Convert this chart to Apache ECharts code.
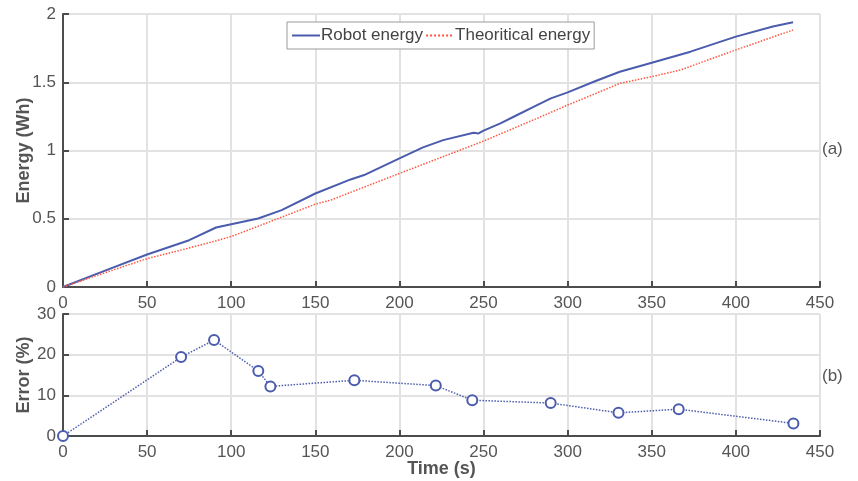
<!DOCTYPE html>
<html>
<head>
<meta charset="utf-8">
<script src="https://cdn.jsdelivr.net/npm/echarts@6/dist/echarts.min.js"></script>
<style>
  html, body { margin: 0; padding: 0; background: #fff; }
  #chart { width: 858px; height: 481px; }
</style>
</head>
<body>
<div id="chart"></div>
<script>
// energy curves (a)
var robotTime = [0, 25, 50, 75, 91, 100, 116, 130, 150, 171, 179, 200, 214, 226, 244, 247, 250, 260, 270, 280, 290, 300, 317, 331, 350, 373, 400, 422, 434];
var robotEnergy = [0, 0.12, 0.238, 0.343, 0.436, 0.46, 0.502, 0.563, 0.685, 0.788, 0.82, 0.942, 1.023, 1.076, 1.13, 1.125, 1.145, 1.199, 1.26, 1.321, 1.382, 1.426, 1.511, 1.577, 1.643, 1.724, 1.834, 1.908, 1.94];
var theoTime = [0, 25, 50, 70, 90, 100, 116, 150, 159, 200, 250, 284, 300, 317, 331, 350, 367, 400, 434];
var theoEnergy = [0, 0.105, 0.208, 0.27, 0.335, 0.37, 0.445, 0.607, 0.636, 0.832, 1.069, 1.247, 1.333, 1.419, 1.492, 1.541, 1.59, 1.737, 1.883];
// error (b)
var errTime = [0, 70.2, 89.8, 116.1, 123.3, 173.2, 221.6, 243.3, 289.9, 330.2, 366, 434.2];
var errValue = [0, 19.4, 23.6, 16.0, 12.2, 13.7, 12.4, 8.8, 8.1, 5.7, 6.6, 3.1];

var xTicks = { min: 0, max: 450, interval: 50 };

function pairs(xs, ys) {
    var out = [];
    for (var i = 0; i < xs.length; i++) {
        out.push([xs[i], ys[i]]);
    }
    return out;
}

var axisGray = '#4d4d4d';
var labelGray = '#555';
var gridGray = '#e2e2e2';

function xAxisCfg(idx, name) {
    return {
        type: 'value',
        gridIndex: idx,
        min: xTicks.min,
        max: xTicks.max,
        interval: xTicks.interval,
        name: name,
        nameLocation: 'middle',
        nameGap: 24,
        nameMoveOverlap: false,
        nameTextStyle: { fontFamily: 'Liberation Sans', fontSize: 18, fontWeight: 'bold', color: labelGray },
        axisLine: { show: true, lineStyle: { color: axisGray, width: 2 } },
        axisTick: { show: true, inside: true, length: 6, lineStyle: { color: axisGray, width: 2 } },
        axisLabel: { fontFamily: 'Liberation Sans', fontSize: 17, color: labelGray, margin: 8 },
        splitLine: { show: true, lineStyle: { color: gridGray, width: 2 } }
    };
}

function yAxisCfg(idx, name, max, interval) {
    return {
        type: 'value',
        gridIndex: idx,
        min: 0,
        max: max,
        interval: interval,
        name: name,
        nameLocation: 'middle',
        nameGap: 30,
        nameMoveOverlap: false,
        nameTextStyle: { fontFamily: 'Liberation Sans', fontSize: 18, fontWeight: 'bold', color: labelGray },
        axisLine: { show: true, lineStyle: { color: axisGray, width: 2 } },
        axisTick: { show: true, inside: true, length: 6, lineStyle: { color: axisGray, width: 2 } },
        axisLabel: { fontFamily: 'Liberation Sans', fontSize: 17, color: labelGray, margin: 7 },
        splitLine: { show: true, lineStyle: { color: gridGray, width: 2 } }
    };
}

var chart = echarts.init(document.getElementById('chart'));
var option = {
    backgroundColor: '#fff',
    animation: false,
    legend: {
        left: 287,
        top: 22,
        padding: [5, 4, 5, 4],
        itemGap: 2,
        itemWidth: 28,
        itemHeight: 3,
        borderColor: '#9a9a9a',
        borderWidth: 1,
        backgroundColor: '#fff',
        itemStyle: { opacity: 0 },
        textStyle: { fontFamily: 'Liberation Sans', fontSize: 17, color: '#444', padding: [0, 0, 0, -4] },
        data: ['Robot energy', 'Theoritical energy']
    },
    grid: [
        { left: 63, right: 38, top: 14, height: 273, outerBoundsMode: 'none', containLabel: false },
        { left: 63, right: 38, top: 314, height: 122, outerBoundsMode: 'none', containLabel: false }
    ],
    xAxis: [xAxisCfg(0, ''), xAxisCfg(1, 'Time (s)')],
    yAxis: [yAxisCfg(0, 'Energy (Wh)', 2, 0.5), yAxisCfg(1, 'Error (%)', 30, 10)],
    graphic: [
        { type: 'text', left: 822, top: 141, style: { text: '(a)', fontFamily: 'Liberation Sans', fontSize: 17, fill: labelGray } },
        { type: 'text', left: 822, top: 368, style: { text: '(b)', fontFamily: 'Liberation Sans', fontSize: 17, fill: labelGray } }
    ],
    series: [
        {
            name: 'Robot energy',
            type: 'line',
            xAxisIndex: 0,
            yAxisIndex: 0,
            showSymbol: false,
            symbol: 'none',
            color: '#4b5cad',
            lineStyle: { color: '#4b5cad', width: 2 },
            data: pairs(robotTime, robotEnergy)
        },
        {
            name: 'Theoritical energy',
            type: 'line',
            xAxisIndex: 0,
            yAxisIndex: 0,
            showSymbol: false,
            symbol: 'none',
            color: '#ff5640',
            lineStyle: { color: '#ff5640', width: 1.5, type: 'dotted' },
            data: pairs(theoTime, theoEnergy)
        },
        {
            name: 'Error',
            type: 'line',
            xAxisIndex: 1,
            yAxisIndex: 1,
            symbol: 'circle',
            symbolSize: 10,
            itemStyle: { color: '#fff', borderColor: '#4b5cad', borderWidth: 2 },
            lineStyle: { color: '#4b5cad', width: 1.5, type: 'dotted' },
            data: pairs(errTime, errValue)
        }
    ]
};
chart.setOption(option);
</script>
</body>
</html>
